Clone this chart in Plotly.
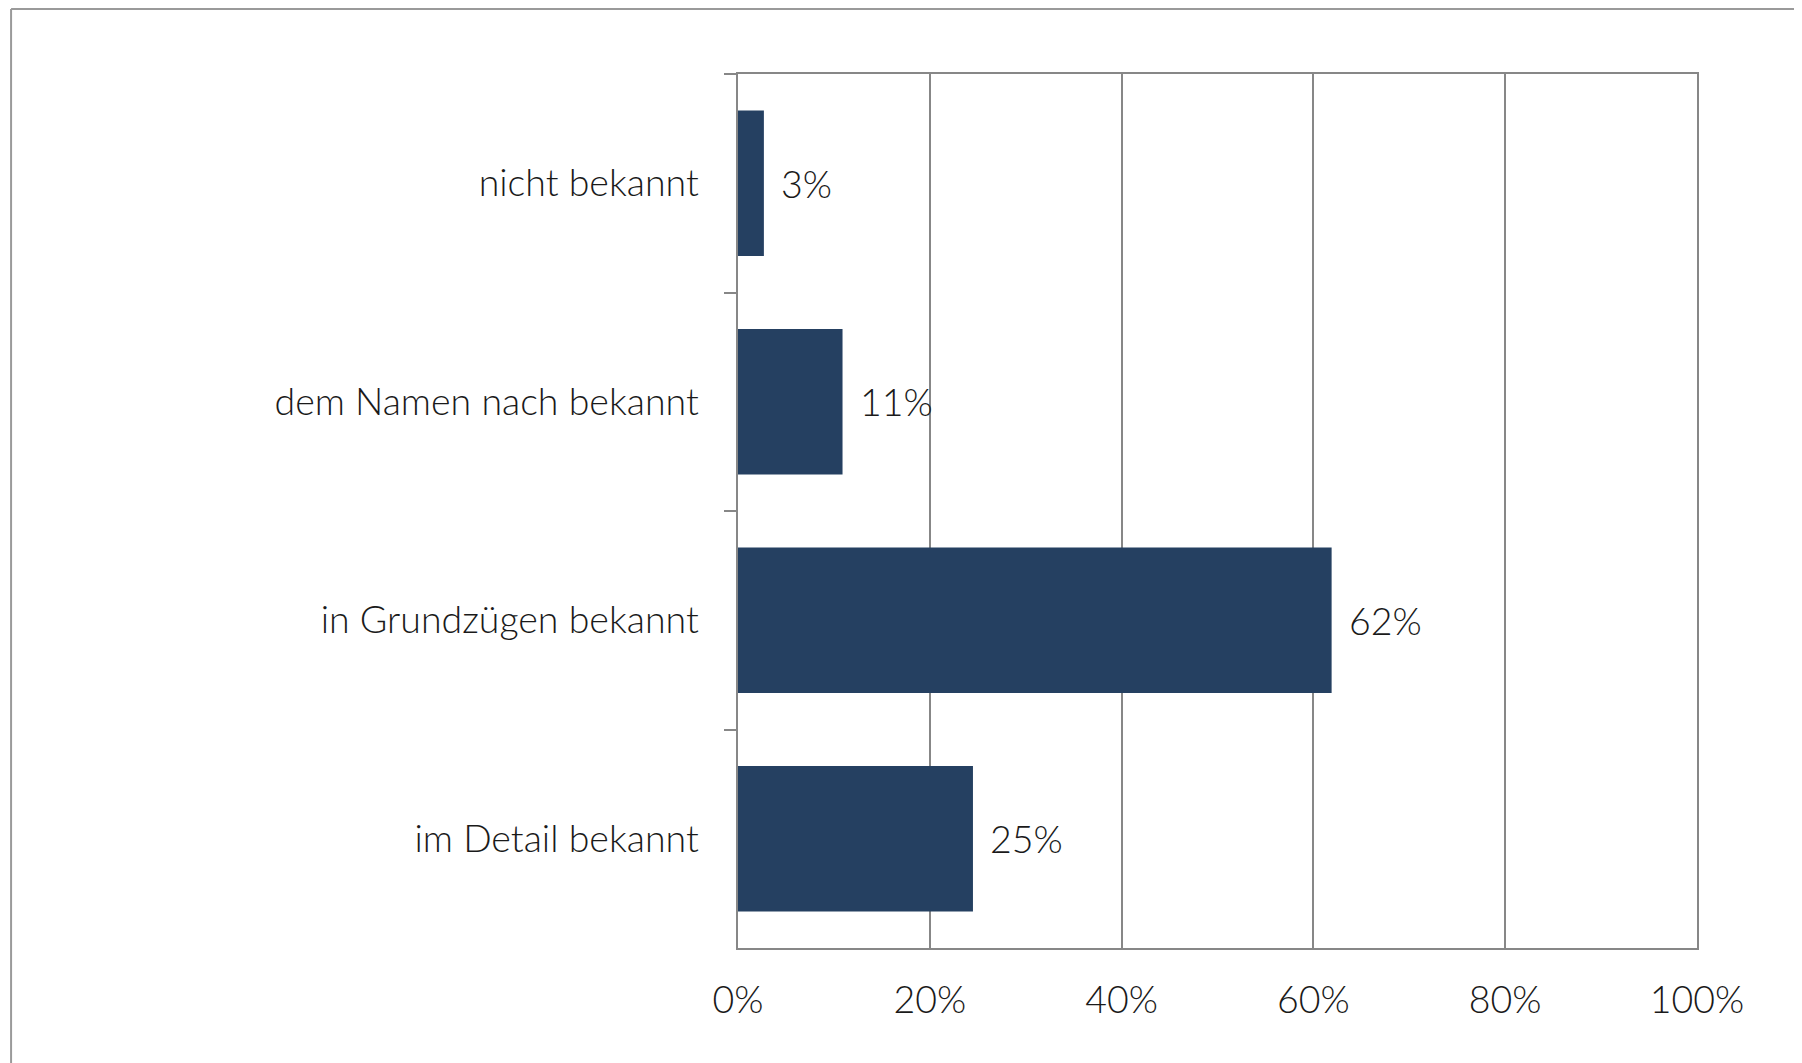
import plotly.graph_objects as go

# Bekanntheit, Anteil der Befragten in Prozent (von oben nach unten)
categories = [
    "nicht bekannt",
    "dem Namen nach bekannt",
    "in Grundzügen bekannt",
    "im Detail bekannt",
]
shares = [2.7, 10.9, 61.9, 24.5]
share_labels = ["3%", "11%", "62%", "25%"]
x_ticks = [0, 20, 40, 60, 80, 100]
x_tick_labels = [f"{v}%" for v in x_ticks]

BAR_COLOR = "#254061"
GRID_COLOR = "#878787"
FONT = {"family": "Lato, Open Sans, sans-serif", "size": 37.5,
        "color": "#1a1a1a", "weight": 300}

fig = go.Figure()
fig.add_trace(go.Bar(
    y=categories, x=shares, orientation="h",
    marker={"color": BAR_COLOR, "line": {"width": 0}},
    hoverinfo="skip",
))

annotations = [
    {
        "x": v, "y": c, "xref": "x", "yref": "y", "text": t,
        "showarrow": False, "xanchor": "left", "xshift": 15,
        "font": FONT,
    }
    for c, v, t in zip(categories, shares, share_labels)
]

# outer frame of the chart box (top and left edges visible)
frame = [
    {"type": "line", "xref": "paper", "yref": "paper",
     "x0": -0.758, "x1": 1.2, "y0": 1.0744, "y1": 1.0744,
     "line": {"color": "#9a9a9a", "width": 2}},
    {"type": "line", "xref": "paper", "yref": "paper",
     "x0": -0.758, "x1": -0.758, "y0": -0.2, "y1": 1.0744,
     "line": {"color": "#9a9a9a", "width": 2}},
]

fig.update_layout(
    width=1802, height=1063,
    margin={"l": 730, "r": 113, "t": 66, "b": 123, "autoexpand": False},
    paper_bgcolor="white", plot_bgcolor="white",
    bargap=0.333, showlegend=False,
    font=FONT,
    annotations=annotations, shapes=frame,
    xaxis={
        "range": [0, 100], "tickvals": x_ticks, "ticktext": x_tick_labels,
        "showgrid": True, "gridcolor": GRID_COLOR, "gridwidth": 1.5,
        "showline": True, "linecolor": GRID_COLOR, "linewidth": 1.5,
        "mirror": True, "ticks": "", "zeroline": False,
        "ticklabelstandoff": 18, "tickfont": FONT,
    },
    yaxis={
        "categoryorder": "array", "categoryarray": categories,
        "autorange": "reversed",
        "showline": True, "linecolor": GRID_COLOR, "linewidth": 1.5,
        "mirror": True, "ticks": "outside", "tickson": "boundaries",
        "ticklen": 12, "tickcolor": GRID_COLOR, "tickwidth": 1.5,
        "showgrid": False, "ticklabelstandoff": 30, "tickfont": FONT,
    },
)

fig.write_html("out.html")
